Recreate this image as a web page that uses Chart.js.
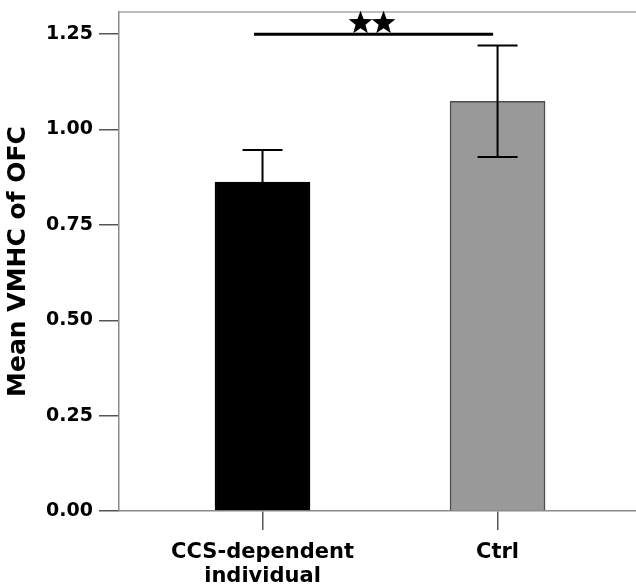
<!DOCTYPE html>
<html>
<head>
<meta charset="utf-8">
<script src="https://cdn.jsdelivr.net/npm/chart.js@4"></script>
<style>
    body { margin: 0; background: #fff; overflow: hidden; }
    canvas { display: block; }
</style>
</head>
<body>
<canvas id="vmhcChart" width="636" height="588"></canvas>
<script>
// Data
const groupLabels = [['CCS-dependent', 'individual'], ['Ctrl']];
const groupPos = [0, 1];
const meanVmhc = [0.862, 1.074];
const errVmhc = [0.084, 0.146];
const barColors = ['#000000', '#999999'];
const barEdges = ['#000000', '#4d4d4d'];
const yTicks = [0, 0.25, 0.5, 0.75, 1.0, 1.25];
// significance bracket between the groups
const sigFrom = -0.036;
const sigTo = 0.981;
const sigY = 1.25;
const sigStars = [0.417, 0.515];

const boldFont = "'DejaVu Sans', sans-serif";

// draw a filled 5-point star
function drawStar(ctx, cx, cy, rOut, rIn) {
    ctx.beginPath();
    for (let i = 0; i < 10; i++) {
        const r = i % 2 === 0 ? rOut : rIn;
        const a = -Math.PI / 2 + i * Math.PI / 5;
        const px = cx + r * Math.cos(a);
        const py = cy + r * Math.sin(a);
        if (i === 0) ctx.moveTo(px, py); else ctx.lineTo(px, py);
    }
    ctx.closePath();
    ctx.fill();
}

// error bars, top frame line and significance marker
const extrasPlugin = {
    id: 'extras',
    afterDatasetsDraw(chart) {
        const ctx = chart.ctx;
        const xs = chart.scales.x;
        const ys = chart.scales.y;
        const area = chart.chartArea;
        ctx.save();

        // top frame line
        ctx.strokeStyle = '#a8a8a8';
        ctx.lineWidth = 1.5;
        ctx.beginPath();
        ctx.moveTo(area.left, area.top);
        ctx.lineTo(area.right, area.top);
        ctx.stroke();

        // error bars
        ctx.strokeStyle = '#000';
        ctx.lineWidth = 2;
        meanVmhc.forEach((m, i) => {
            const x = xs.getPixelForValue(groupPos[i]);
            const yHi = ys.getPixelForValue(m + errVmhc[i]);
            const yLo = ys.getPixelForValue(m - errVmhc[i]);
            ctx.beginPath();
            ctx.moveTo(x, yLo);
            ctx.lineTo(x, yHi);
            ctx.moveTo(x - 20, yHi);
            ctx.lineTo(x + 20, yHi);
            ctx.moveTo(x - 20, yLo);
            ctx.lineTo(x + 20, yLo);
            ctx.stroke();
        });

        // significance line + stars
        const ly = ys.getPixelForValue(sigY);
        ctx.lineWidth = 3;
        ctx.beginPath();
        ctx.moveTo(xs.getPixelForValue(sigFrom), ly);
        ctx.lineTo(xs.getPixelForValue(sigTo), ly);
        ctx.stroke();
        ctx.fillStyle = '#000';
        sigStars.forEach(v => {
            drawStar(ctx, xs.getPixelForValue(v), ly - 11, 12.5, 5.2);
        });

        ctx.restore();
    }
};

const ctx = document.getElementById('vmhcChart').getContext('2d');
const vmhcChart = new Chart(ctx, {
    type: 'bar',
    data: {
        datasets: [{
            data: meanVmhc.map((m, i) => ({ x: groupPos[i], y: m })),
            backgroundColor: barColors,
            borderColor: barEdges,
            borderWidth: 1.5,
            barThickness: 95,
            grouped: false
        }]
    },
    options: {
        responsive: false,
        animation: false,
        devicePixelRatio: 1,
        layout: {
            padding: { top: 12, right: 0, left: 0, bottom: 0 }
        },
        plugins: {
            legend: { display: false },
            tooltip: { enabled: false }
        },
        scales: {
            x: {
                type: 'linear',
                offset: false,
                bounds: 'data',
                min: -0.6106,
                max: 1.589,
                afterFit: s => { s.height = 77; },
                afterBuildTicks: s => { s.ticks = groupPos.map(v => ({ value: v })); },
                grid: {
                    offset: false,
                    drawOnChartArea: false,
                    tickLength: 19,
                    color: '#555',
                    lineWidth: 1.5
                },
                border: { color: '#8a8a8a', width: 1.5 },
                ticks: {
                    color: '#000',
                    padding: 10,
                    maxRotation: 0,
                    autoSkip: false,
                    font: { family: boldFont, size: 21, weight: 'bold', lineHeight: 1.15 },
                    callback: v => groupLabels[groupPos.indexOf(v)] || ''
                }
            },
            y: {
                min: 0,
                max: 1.308,
                afterFit: s => {
                    s.width = 119;
                    s.paddingTop = 0;
                    s.paddingBottom = 0;
                },
                afterBuildTicks: s => { s.ticks = yTicks.map(v => ({ value: v })); },
                grid: {
                    drawOnChartArea: false,
                    tickLength: 20,
                    color: '#555',
                    lineWidth: 1.5
                },
                border: { color: '#8a8a8a', width: 1.5 },
                ticks: {
                    color: '#000',
                    padding: 6,
                    font: { family: boldFont, size: 19, weight: 'bold' },
                    callback: v => v.toFixed(2)
                },
                title: {
                    display: true,
                    text: 'Mean VMHC of OFC',
                    color: '#000',
                    padding: { top: 3, bottom: 0 },
                    font: { family: boldFont, size: 25, weight: 'bold' }
                }
            }
        }
    },
    plugins: [extrasPlugin]
});
</script>
</body>
</html>
